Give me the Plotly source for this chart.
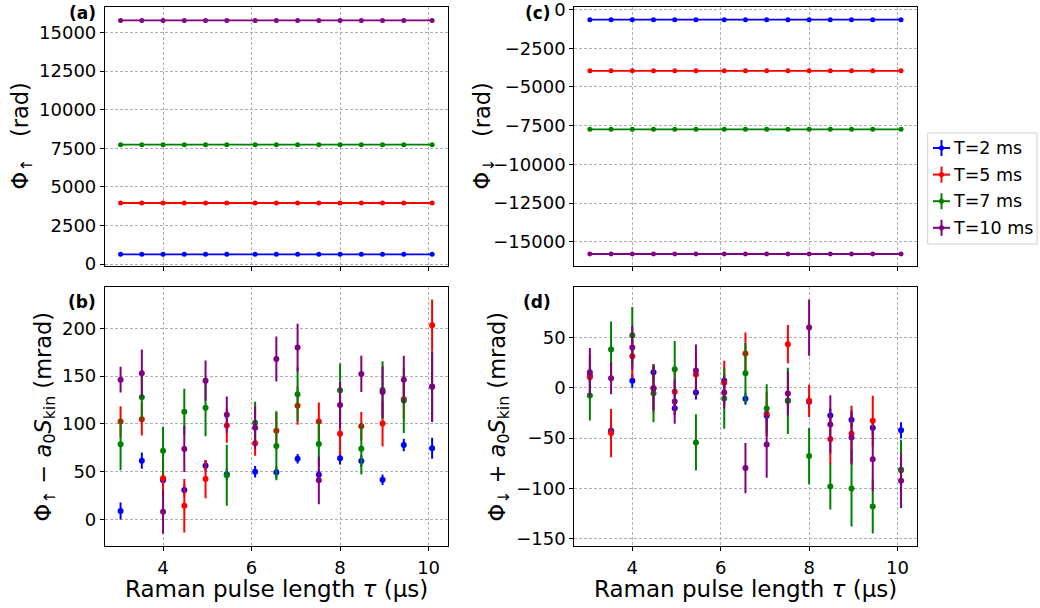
import plotly.graph_objects as go

W, H = 1040, 608

# ---------------- data ----------------
tau = [3.04, 3.52, 4.00, 4.48, 4.96, 5.44, 6.08, 6.56, 7.04, 7.52, 8.00, 8.48, 8.96, 9.44, 10.08]
labels = ["T=2 ms", "T=5 ms", "T=7 ms", "T=10 ms"]
colors = ["#0000ff", "#ff0000", "#008000", "#800080"]

# (a) Phi_up (rad)
phi_up_2 = [626, 626, 626, 626, 626, 626, 626, 626, 626, 626, 626, 626, 626, 626, 626]
phi_up_5 = [3951, 3951, 3951, 3951, 3951, 3951, 3951, 3951, 3951, 3951, 3951, 3951, 3951, 3951, 3951]
phi_up_7 = [7729, 7729, 7729, 7729, 7729, 7729, 7729, 7729, 7729, 7729, 7729, 7729, 7729, 7729, 7729]
phi_up_10 = [15781, 15781, 15781, 15781, 15781, 15781, 15781, 15781, 15781, 15781, 15781, 15781, 15781, 15781, 15781]

# (c) Phi_down (rad)
phi_dn_2 = [-648, -648, -648, -648, -648, -648, -648, -648, -648, -648, -648, -648, -648, -648, -648]
phi_dn_5 = [-3954, -3954, -3954, -3954, -3954, -3954, -3954, -3954, -3954, -3954, -3954, -3954, -3954, -3954, -3954]
phi_dn_7 = [-7735, -7735, -7735, -7735, -7735, -7735, -7735, -7735, -7735, -7735, -7735, -7735, -7735, -7735, -7735]
phi_dn_10 = [-15795, -15795, -15795, -15795, -15795, -15795, -15795, -15795, -15795, -15795, -15795, -15795, -15795, -15795, -15795]

# (b) Phi_up - a0 S_kin (mrad)
b_2 = [8.7, 61.4, 40.8, 30.7, 56.2, 47.1, 49.9, 49.2, 63.5, 46.8, 63.9, 61.1, 41.5, 77.8, 74.3]
b_2_err = [9, 8.5, 6, 6, 6, 6, 6, 6, 5, 6, 6.5, 6, 5.5, 6.5, 11]
b_5 = [102.3, 104.7, 42.9, 14.3, 42.2, 98.1, 79.6, 92.8, 119.0, 102.3, 89.7, 97.4, 100.2, 125.7, 203.1]
b_5_err = [16, 17, 20, 28, 20, 18, 13, 20, 20, 20, 22, 15, 24, 20, 27]
b_7 = [78.5, 127.7, 71.9, 112.7, 116.9, 46.1, 101.2, 76.8, 130.9, 78.9, 135.1, 74.0, 135.4, 124.3, 139.0]
b_7_err = [27, 25, 25, 24, 30, 32, 22, 36, 28, 24, 28, 27, 30, 34, 36]
b_10 = [146.2, 152.9, 8.0, 73.6, 145.2, 109.6, 96.0, 167.9, 179.8, 40.8, 119.7, 152.2, 133.3, 146.2, 138.9]
b_10_err = [13.5, 25, 23, 24, 21, 19, 22, 23.5, 25, 25, 24, 19, 27, 25, 37]

# (d) Phi_down + a0 S_kin (mrad)
d_2 = [12.0, -42.7, 7.0, 15.6, -20.2, -4.6, 7.0, -10.9, -27.8, -12.9, -13.9, -27.5, -31.8, -39.7, -42.1]
d_2_err = [7, 8, 7, 7, 7, 7, 7, 6, 7, 7, 7, 7, 7, 7, 8]
d_5 = [10.6, -45.0, 31.5, -0.3, -4.0, 13.2, 5.0, 34.1, -25.8, 43.4, -12.9, -51.0, -45.7, -32.8, -82.0]
d_5_err = [22, 24, 22, 24, 22, 20, 22, 21, 22, 19, 16, 25, 28, 25, 25]
d_7 = [-7.6, 38.1, 52.3, -5.3, 18.5, -54.3, -10.6, 14.6, -20.5, -12.9, -67.9, -98.0, -100.0, -117.9, -81.5]
d_7_err = [25, 28, 28, 29, 28, 28, 30, 30, 24, 33, 28, 23, 38, 27, 30]
d_10 = [15.6, 9.6, 40.1, -0.3, -13.6, 17.2, -4.6, -79.8, -56.3, -5.6, 59.9, -36.4, -49.3, -70.9, -92.4]
d_10_err = [24, 16, 22, 22, 22, 26, 16, 25, 33, 22, 28, 29, 27, 32, 27]

x_ticks = [4, 6, 8, 10]
ya_ticks = [0, 2500, 5000, 7500, 10000, 12500, 15000]
yb_ticks = [0, 50, 100, 150, 200]
yc_ticks = [0, -2500, -5000, -7500, -10000, -12500, -15000]
yd_ticks = [50, 0, -50, -100, -150]


def fmt(v):
    return ("\u2212" + str(abs(v))) if v < 0 else str(v)


# ---------------- figure ----------------
fig = go.Figure()

top_a = [phi_up_2, phi_up_5, phi_up_7, phi_up_10]
top_c = [phi_dn_2, phi_dn_5, phi_dn_7, phi_dn_10]
bot_b = [(b_2, b_2_err), (b_5, b_5_err), (b_7, b_7_err), (b_10, b_10_err)]
bot_d = [(d_2, d_2_err), (d_5, d_5_err), (d_7, d_7_err), (d_10, d_10_err)]

for i in range(4):
    c = colors[i]
    fig.add_trace(go.Scatter(x=tau, y=top_a[i], mode="lines+markers", xaxis="x", yaxis="y",
                             line=dict(color=c, width=1.8), marker=dict(color=c, size=5),
                             showlegend=False, name=labels[i]))
    fig.add_trace(go.Scatter(x=tau, y=top_c[i], mode="lines+markers", xaxis="x3", yaxis="y3",
                             line=dict(color=c, width=1.8), marker=dict(color=c, size=5),
                             showlegend=False, name=labels[i]))
    yb, eb = bot_b[i]
    fig.add_trace(go.Scatter(x=tau, y=yb, mode="markers", xaxis="x2", yaxis="y2",
                             marker=dict(color=c, size=6),
                             error_y=dict(type="data", array=eb, color=c, thickness=2, width=0),
                             showlegend=False, name=labels[i]))
    yd, ed = bot_d[i]
    fig.add_trace(go.Scatter(x=tau, y=yd, mode="markers", xaxis="x4", yaxis="y4",
                             marker=dict(color=c, size=6),
                             error_y=dict(type="data", array=ed, color=c, thickness=2, width=0),
                             showlegend=False, name=labels[i]))


def px(xp):
    return xp / W


def py(yp):
    return 1 - yp / H


xl = [px(105), px(447.7)]
xr = [px(574.3), px(916.6)]
ytop = [py(265.7), py(7.3)]
ybot = [py(545.7), py(287.3)]

axis_common = dict(showline=True, linecolor="black", linewidth=1.2, mirror=True,
                   ticks="outside", ticklen=4, tickcolor="black", tickwidth=1,
                   showgrid=True, gridcolor="#b0b0b0", griddash="3px,2px", gridwidth=0.8,
                   zeroline=False, automargin=False, ticklabeloverflow="allow",
                   tickfont=dict(size=18, color="black"))

xrange_ = [2.688, 10.432]

fig.update_layout(
    width=W, height=H,
    margin=dict(l=0, r=0, t=0, b=0, autoexpand=False),
    paper_bgcolor="white", plot_bgcolor="white",
    font=dict(family="DejaVu Sans", color="black"),
    showlegend=False,
    xaxis=dict(domain=xl, anchor="y", range=xrange_, tickvals=x_ticks, showticklabels=False, **axis_common),
    yaxis=dict(domain=ytop, anchor="x", range=[-110, 16630], tickvals=ya_ticks,
               ticktext=[fmt(v) for v in ya_ticks], **axis_common),
    xaxis2=dict(domain=xl, anchor="y2", range=xrange_, tickvals=x_ticks, ticklabelstandoff=2,
                ticktext=[str(v) for v in x_ticks], **axis_common),
    yaxis2=dict(domain=ybot, anchor="x2", range=[-27.6, 242.9], tickvals=yb_ticks,
                ticktext=[fmt(v) for v in yb_ticks], **axis_common),
    xaxis3=dict(domain=xr, anchor="y3", range=xrange_, tickvals=x_ticks, showticklabels=False, **axis_common),
    yaxis3=dict(domain=ytop, anchor="x3", range=[-16552, 150], tickvals=yc_ticks,
                ticktext=[fmt(v) for v in yc_ticks], **axis_common),
    xaxis4=dict(domain=xr, anchor="y4", range=xrange_, tickvals=x_ticks, ticklabelstandoff=2,
                ticktext=[str(v) for v in x_ticks], **axis_common),
    yaxis4=dict(domain=ybot, anchor="x4", range=[-157, 100], tickvals=yd_ticks,
                ticktext=[fmt(v) for v in yd_ticks], **axis_common),
)

ann = []
shapes = []
for txt, xp, yp in [("(a)", 98, 13), ("(b)", 98, 302), ("(c)", 553, 13), ("(d)", 553, 302)]:
    ann.append(dict(text="<b>" + txt + "</b>", x=px(xp), y=py(yp), xref="paper", yref="paper",
                    xanchor="right", yanchor="middle", showarrow=False, font=dict(size=17, color="black")))
ytitles = [
    ("\u03a6<sub>\u2191</sub>   (rad)", 22, (7.3 + 265.7) / 2),
    ("\u03a6<sub>\u2191</sub> \u2212 <i>a</i><sub>0</sub><i>S</i><sub>kin</sub> (mrad)", 44, (287.3 + 545.7) / 2),
    ("\u03a6<sub>\u2193</sub>   (rad)", 484, (7.3 + 265.7) / 2),
    ("\u03a6<sub>\u2193</sub> + <i>a</i><sub>0</sub><i>S</i><sub>kin</sub> (mrad)", 498, (287.3 + 545.7) / 2),
]
for txt, xp, yp in ytitles:
    ann.append(dict(text=txt, x=px(xp), y=py(yp), xref="paper", yref="paper", textangle=-90,
                    xanchor="center", yanchor="middle", showarrow=False, font=dict(size=22.5, color="black")))
for xc in [(105 + 447.7) / 2, (574.3 + 916.6) / 2]:
    ann.append(dict(text="Raman pulse length <i>\u03c4</i> (\u03bcs)", x=px(xc), y=py(589), xref="paper",
                    yref="paper", xanchor="center", yanchor="middle", showarrow=False,
                    font=dict(size=23, color="black")))

# ---- legend (drawn manually so that it fits the figure like the reference) ----
lx0, lx1, ly0, ly1 = 927.7, 1037, 133, 244
shapes.append(dict(type="rect", xref="paper", yref="paper", x0=px(lx0), x1=px(lx1), y0=py(ly1), y1=py(ly0),
                   line=dict(color="#d0d0d0", width=1), fillcolor="white", layer="above"))
for i, lab in enumerate(labels):
    yc = 148 + i * 26.6
    c = colors[i]
    shapes.append(dict(type="line", xref="paper", yref="paper", x0=px(933), x1=px(950), y0=py(yc), y1=py(yc),
                       line=dict(color=c, width=2), layer="above"))
    shapes.append(dict(type="line", xref="paper", yref="paper", x0=px(941.5), x1=px(941.5),
                       y0=py(yc - 8), y1=py(yc + 8), line=dict(color=c, width=2), layer="above"))
    shapes.append(dict(type="circle", xref="paper", yref="paper", x0=px(939.3), x1=px(943.7),
                       y0=py(yc + 2.2), y1=py(yc - 2.2), line=dict(color=c, width=1), fillcolor=c, layer="above"))
    ann.append(dict(text=lab, x=px(951), y=py(yc), xref="paper", yref="paper", xanchor="left",
                    yanchor="middle", showarrow=False, font=dict(size=17.5, color="black")))

fig.update_layout(annotations=ann, shapes=shapes)

# remove the default 8px page margin so the figure sits at the window's top-left corner
fig.write_html("out.html",
               config={"displayModeBar": False},
               post_script="document.body.style.margin='0px';document.body.style.padding='0px';"
                           "document.body.style.overflow='hidden';")
